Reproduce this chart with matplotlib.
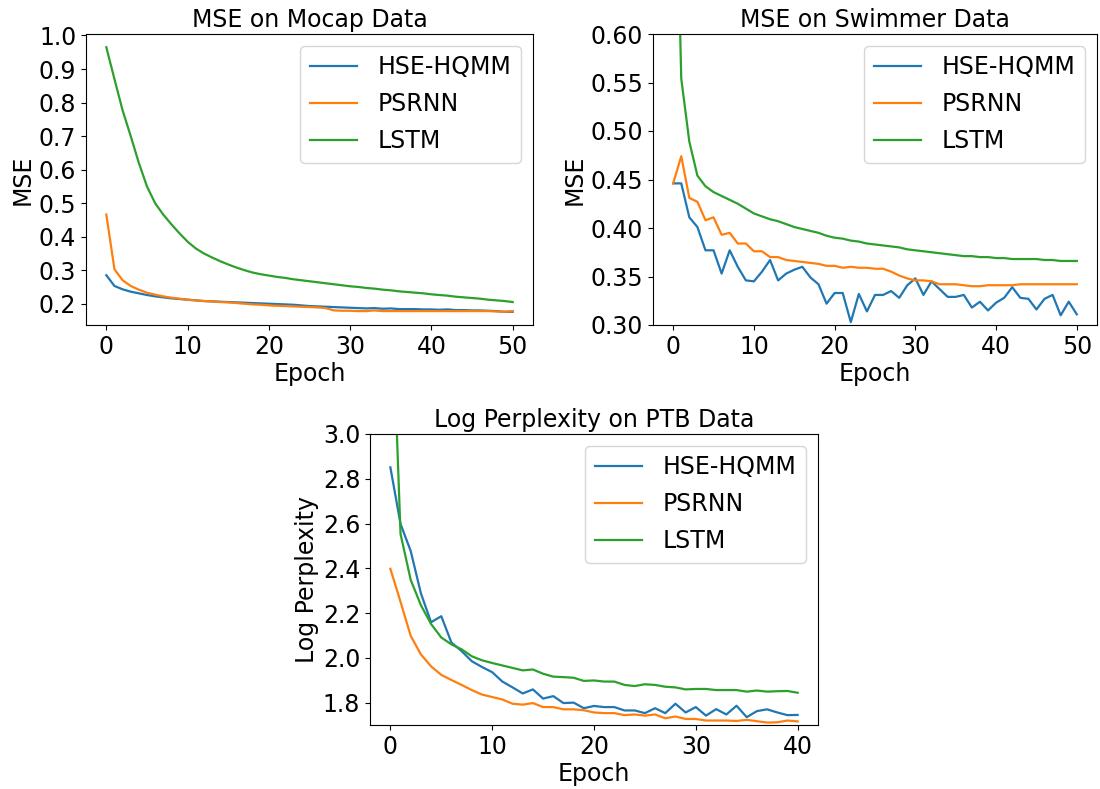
import matplotlib
matplotlib.use("Agg")
import matplotlib.pyplot as plt
from matplotlib.ticker import MultipleLocator, FormatStrFormatter

labels = ["HSE-HQMM", "PSRNN", "LSTM"]

# Mocap MSE, epochs 0..50
mocap_epochs = list(range(51))
mocap_hse = [0.285, 0.253, 0.243, 0.236, 0.231, 0.226, 0.222, 0.219, 0.216, 0.214,
             0.212, 0.210, 0.208, 0.207, 0.206, 0.205, 0.204, 0.203, 0.202, 0.201,
             0.200, 0.199, 0.198, 0.197, 0.195, 0.193, 0.192, 0.191, 0.190, 0.189,
             0.188, 0.187, 0.186, 0.187, 0.185, 0.186, 0.184, 0.184, 0.184, 0.183,
             0.183, 0.182, 0.183, 0.181, 0.181, 0.180, 0.180, 0.179, 0.178, 0.176,
             0.176]
mocap_psrnn = [0.466, 0.303, 0.270, 0.253, 0.242, 0.233, 0.227, 0.222, 0.218, 0.215,
               0.212, 0.210, 0.208, 0.207, 0.205, 0.204, 0.202, 0.200, 0.198, 0.197,
               0.195, 0.194, 0.193, 0.192, 0.191, 0.190, 0.189, 0.187, 0.180, 0.179,
               0.179, 0.178, 0.178, 0.180, 0.178, 0.178, 0.178, 0.178, 0.178, 0.178,
               0.178, 0.178, 0.178, 0.178, 0.178, 0.178, 0.178, 0.178, 0.177, 0.176,
               0.178]
mocap_lstm = [0.965, 0.870, 0.777, 0.700, 0.620, 0.550, 0.500, 0.466, 0.437, 0.410,
              0.385, 0.365, 0.350, 0.338, 0.327, 0.317, 0.308, 0.300, 0.293, 0.288,
              0.284, 0.280, 0.277, 0.273, 0.270, 0.267, 0.264, 0.261, 0.258, 0.255,
              0.252, 0.250, 0.247, 0.245, 0.242, 0.240, 0.237, 0.235, 0.233, 0.231,
              0.228, 0.226, 0.224, 0.221, 0.219, 0.217, 0.215, 0.212, 0.210, 0.208,
              0.205]

# Swimmer MSE, epochs 0..50
swim_epochs = list(range(51))
swim_hse = [0.446, 0.446, 0.411, 0.401, 0.377, 0.377, 0.353, 0.377, 0.360, 0.346,
            0.345, 0.355, 0.367, 0.346, 0.353, 0.357, 0.360, 0.349, 0.342, 0.322,
            0.333, 0.333, 0.303, 0.332, 0.314, 0.331, 0.331, 0.335, 0.328, 0.341,
            0.348, 0.331, 0.345, 0.337, 0.329, 0.329, 0.331, 0.318, 0.324, 0.315,
            0.323, 0.328, 0.339, 0.328, 0.327, 0.316, 0.327, 0.331, 0.310, 0.324,
            0.311]
swim_psrnn = [0.446, 0.474, 0.431, 0.427, 0.408, 0.411, 0.393, 0.395, 0.384, 0.384,
              0.376, 0.376, 0.370, 0.370, 0.367, 0.366, 0.365, 0.364, 0.363, 0.361,
              0.361, 0.359, 0.360, 0.359, 0.359, 0.358, 0.358, 0.355, 0.351, 0.348,
              0.346, 0.346, 0.345, 0.342, 0.342, 0.342, 0.341, 0.340, 0.340, 0.341,
              0.341, 0.341, 0.341, 0.342, 0.342, 0.342, 0.342, 0.342, 0.342, 0.342,
              0.342]
swim_lstm = [0.900, 0.554, 0.489, 0.454, 0.443, 0.437, 0.433, 0.429, 0.425, 0.420,
             0.415, 0.412, 0.409, 0.407, 0.404, 0.401, 0.399, 0.397, 0.395, 0.392,
             0.390, 0.389, 0.387, 0.386, 0.384, 0.383, 0.382, 0.381, 0.380, 0.378,
             0.377, 0.376, 0.375, 0.374, 0.373, 0.372, 0.371, 0.371, 0.370, 0.370,
             0.369, 0.369, 0.368, 0.368, 0.368, 0.368, 0.367, 0.367, 0.366, 0.366,
             0.366]

# PTB log perplexity, epochs 0..40
ptb_epochs = list(range(41))
ptb_hse = [2.851, 2.598, 2.477, 2.288, 2.159, 2.186, 2.068, 2.030, 1.985, 1.959,
           1.936, 1.894, 1.868, 1.841, 1.859, 1.818, 1.829, 1.798, 1.800, 1.775,
           1.785, 1.780, 1.780, 1.765, 1.765, 1.753, 1.775, 1.753, 1.795, 1.756,
           1.780, 1.742, 1.771, 1.747, 1.786, 1.735, 1.762, 1.770, 1.756, 1.744,
           1.745]
ptb_psrnn = [2.398, 2.250, 2.098, 2.015, 1.962, 1.924, 1.901, 1.879, 1.856, 1.836,
             1.825, 1.814, 1.795, 1.791, 1.798, 1.780, 1.780, 1.770, 1.770, 1.766,
             1.756, 1.753, 1.753, 1.744, 1.747, 1.742, 1.747, 1.730, 1.738, 1.727,
             1.727, 1.720, 1.720, 1.720, 1.718, 1.723, 1.717, 1.711, 1.712, 1.720,
             1.716]
ptb_lstm = [3.800, 2.553, 2.348, 2.235, 2.151, 2.091, 2.060, 2.038, 2.007, 1.989,
            1.977, 1.966, 1.955, 1.944, 1.948, 1.929, 1.916, 1.914, 1.911, 1.897,
            1.899, 1.894, 1.894, 1.879, 1.874, 1.882, 1.879, 1.871, 1.868, 1.859,
            1.861, 1.861, 1.856, 1.856, 1.856, 1.849, 1.854, 1.849, 1.851, 1.852,
            1.844]

plt.rcParams['font.family'] = ['DejaVu Sans']
FS = 17

fig = plt.figure(figsize=(11, 7.89), dpi=100)
ax1 = fig.add_axes([86 / 1100, 464 / 789, 447 / 1100, 291 / 789])
ax2 = fig.add_axes([653 / 1100, 464 / 789, 444 / 1100, 291 / 789])
ax3 = fig.add_axes([370 / 1100, 64 / 789, 448 / 1100, 291 / 789])

panels = [
    (ax1, mocap_epochs, [mocap_hse, mocap_psrnn, mocap_lstm], "MSE on Mocap Data", "MSE"),
    (ax2, swim_epochs, [swim_hse, swim_psrnn, swim_lstm], "MSE on Swimmer Data", "MSE"),
    (ax3, ptb_epochs, [ptb_hse, ptb_psrnn, ptb_lstm], "Log Perplexity on PTB Data", "Log Perplexity"),
]

for ax, x, series, title, ylabel in panels:
    for ys, lab in zip(series, labels):
        ax.plot(x, ys, label=lab, linewidth=1.6)
    ax.set_title(title, fontsize=FS, pad=5)
    ax.set_xlabel("Epoch", fontsize=FS, labelpad=2)
    ax.set_ylabel(ylabel, fontsize=FS, labelpad=3)
    ax.tick_params(labelsize=FS)
    ax.legend(loc="upper right", fontsize=FS, labelspacing=0.55,
              handletextpad=0.9, borderpad=0.4)

ax1.yaxis.set_major_locator(MultipleLocator(0.1))
ax1.yaxis.set_major_formatter(FormatStrFormatter('%.1f'))
ax2.set_ylim(0.30, 0.60)
ax3.set_ylim(1.7, 3.0)
ax3.yaxis.set_major_locator(MultipleLocator(0.2))
ax3.yaxis.set_major_formatter(FormatStrFormatter('%.1f'))

fig.savefig("out.png", dpi=100)
